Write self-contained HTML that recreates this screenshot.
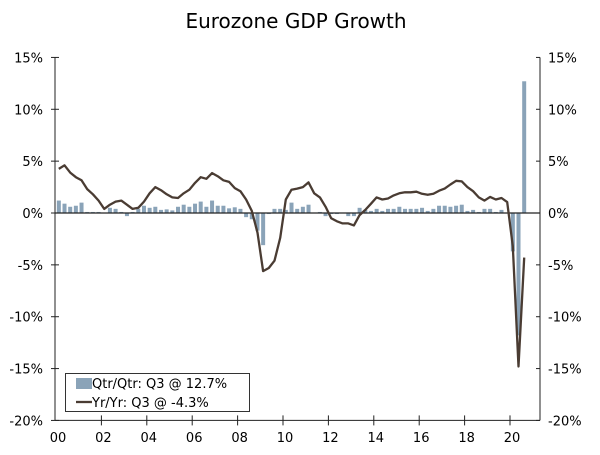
<!DOCTYPE html>
<html><head><meta charset="utf-8"><style>
body{margin:0;background:#fff;}
svg text{font-family:"DejaVu Sans","Liberation Sans",sans-serif;fill:#000;}
</style></head><body>
<svg id="chart" width="600" height="450">
<text x="296" y="28" text-anchor="middle" font-size="20">Eurozone GDP Growth</text>
<g id="bars"></g>
<g id="axes"></g>
<path id="line" fill="none" stroke="#4a3c33" stroke-width="2.3" stroke-linejoin="round"></path>
<g>
<rect x="65.5" y="373.5" width="184" height="38" fill="#fff" stroke="#333" stroke-width="1"/>
<rect x="76" y="378" width="16" height="11" fill="#8aa3b8"/>
<text x="92" y="388" font-size="13">Qtr/Qtr: Q3 @ 12.7%</text>
<line x1="76" y1="402" x2="92" y2="402" stroke="#4a3c33" stroke-width="2.3"/>
<text x="92" y="407" font-size="13">Yr/Yr: Q3 @ -4.3%</text>
</g>
</svg>
<script>
const qtr=[1.2,0.9,0.6,0.7,1.0,0.1,0.1,0.1,0.0,0.5,0.4,0.1,-0.3,0.1,0.4,0.7,0.5,0.6,0.3,0.35,0.25,0.6,0.8,0.6,0.9,1.1,0.6,1.2,0.7,0.7,0.45,0.55,0.4,-0.4,-0.6,-1.7,-3.1,-0.1,0.4,0.4,0.3,1.0,0.4,0.6,0.8,0.0,0.1,-0.3,-0.1,-0.1,0.0,-0.3,-0.3,0.5,0.3,0.2,0.4,0.2,0.4,0.4,0.6,0.4,0.4,0.4,0.5,0.2,0.4,0.7,0.7,0.6,0.7,0.8,0.2,0.3,0.1,0.4,0.4,0.1,0.3,0.0,-3.7,-11.8,12.7];
const yoy=[4.25,4.6,3.9,3.45,3.15,2.3,1.8,1.2,0.4,0.8,1.1,1.2,0.8,0.4,0.5,1.1,1.9,2.5,2.2,1.8,1.5,1.45,1.9,2.25,2.9,3.45,3.3,3.85,3.55,3.15,3.0,2.4,2.1,1.3,0.2,-1.9,-5.6,-5.3,-4.6,-2.4,1.3,2.25,2.35,2.5,2.95,1.9,1.5,0.6,-0.5,-0.8,-1.0,-1.0,-1.2,-0.2,0.3,0.9,1.5,1.3,1.4,1.7,1.9,2.0,2.0,2.05,1.85,1.75,1.85,2.15,2.35,2.75,3.1,3.05,2.5,2.1,1.5,1.2,1.55,1.3,1.45,1.05,-3.2,-14.8,-4.3];
const yTicks=[15,10,5,0,-5,-10,-15,-20];
const xLabels=["00","02","04","06","08","10","12","14","16","18","20"];
const L=55,R=540,T=57.4,B=420.4,x0=56,perQ=5.675;
const y=v=>213+(0-v)*(B-T)/35;
const xq=i=>x0+(i+0.5)*perQ;
const NS="http://www.w3.org/2000/svg";
function mk(t,a,p){const e=document.createElementNS(NS,t);for(const k in a)e.setAttribute(k,a[k]);p.appendChild(e);return e;}
const bars=document.getElementById('bars'),axes=document.getElementById('axes');
qtr.forEach((v,i)=>{const r=mk('rect',{x:xq(i)-2,width:4,y:Math.min(y(v),y(0)),height:Math.max(0.5,Math.abs(y(v)-y(0))),fill:'#8aa3b8'},bars);

});
mk('line',{x1:L,x2:R,y1:y(0),y2:y(0),stroke:'#222','stroke-width':1.3},axes);
mk('line',{x1:L,x2:L,y1:T,y2:B,stroke:'#222'},axes);
mk('line',{x1:R,x2:R,y1:T,y2:B,stroke:'#222'},axes);
mk('line',{x1:L,x2:R,y1:B,y2:B,stroke:'#222'},axes);
yTicks.forEach(v=>{const yy=y(v);
mk('line',{x1:L-4,x2:L+4,y1:yy,y2:yy,stroke:'#222'},axes);
mk('line',{x1:R-4,x2:R,y1:yy,y2:yy,stroke:'#222'},axes);
const t1=mk('text',{x:43,y:yy+5,'text-anchor':'end','font-size':13},axes);t1.textContent=v+'%';


const t2=mk('text',{x:548,y:yy+5,'font-size':13},axes);t2.textContent=v+'%';

});
xLabels.forEach((s,k)=>{const xx=x0+k*8*perQ;
if(k>0)mk('line',{x1:xx,x2:xx,y1:B-5,y2:B+5,stroke:'#222'},axes);
const t=mk('text',{x:xx+2,y:442,'text-anchor':'middle','font-size':13},axes);t.textContent=s;

});
document.getElementById('line').setAttribute('d',yoy.map((v,i)=>(i?'L':'M')+xq(i).toFixed(1)+','+y(v).toFixed(1)).join(''));
</script>
</body></html>
